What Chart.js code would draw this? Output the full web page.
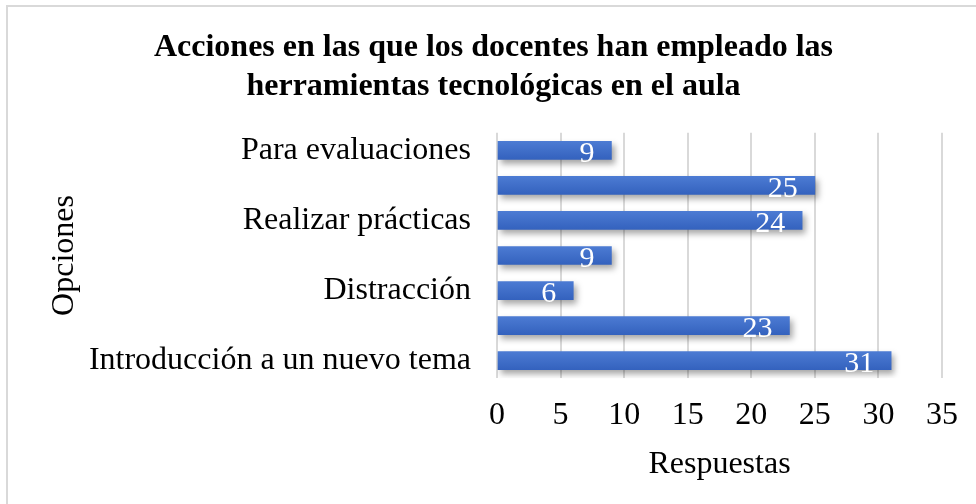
<!DOCTYPE html>
<html>
<head>
<meta charset="utf-8">
<script src="https://cdn.jsdelivr.net/npm/chart.js@4"></script>
<style>
  html, body { margin: 0; padding: 0; background: #fff; overflow: hidden; }
  #wrap { position: relative; width: 976px; height: 504px; }
  #frame { position: absolute; left: 6px; top: 5px; width: 990px; height: 520px; border: 2px solid #d9d9d9; box-sizing: border-box; }
  canvas { position: absolute; left: 0; top: 0; }
</style>
</head>
<body>
<div id="wrap">
  <div id="frame"></div>
  <canvas id="chart" width="976" height="504"></canvas>
</div>
<script>
// categories top to bottom; the unlabeled ones are not readable in the picture
const categories = ['Para evaluaciones', '', 'Realizar prácticas', '', 'Distracción', '', 'Introducción a un nuevo tema'];
const respuestas = [9, 25, 24, 9, 6, 23, 31];
const xTicks = [0, 5, 10, 15, 20, 25, 30, 35];

const serif = "'Liberation Serif', 'Times New Roman', serif";
const BAR_H = 18;

// vertical gradient per bar, lighter on top
function barFill(context) {
    const chart = context.chart;
    const yScale = chart.scales.y;
    if (!chart.chartArea || !yScale) return '#4070c8';
    const yc = yScale.getPixelForValue(context.dataIndex);
    const g = chart.ctx.createLinearGradient(0, yc - BAR_H / 2, 0, yc + BAR_H / 2);
    g.addColorStop(0, '#4c7bd3');
    g.addColorStop(1, '#3462be');
    return g;
}

// soft shadow behind the bars
const barShadow = {
    id: 'barShadow',
    beforeDatasetsDraw(chart) {
        const ctx = chart.ctx;
        ctx.save();
        ctx.shadowColor = 'rgba(0,0,0,0.35)';
        ctx.shadowBlur = 6;
        ctx.shadowOffsetX = 3;
        ctx.shadowOffsetY = 4;
    },
    afterDatasetsDraw(chart) {
        chart.ctx.restore();
    }
};

// white value labels at the inner end of each bar
const valueLabels = {
    id: 'valueLabels',
    afterDraw(chart) {
        const ctx = chart.ctx;
        const meta = chart.getDatasetMeta(0);
        ctx.save();
        ctx.fillStyle = '#fff';
        ctx.font = '30px ' + serif;
        ctx.textAlign = 'right';
        ctx.textBaseline = 'alphabetic';
        meta.data.forEach((bar, i) => {
            ctx.fillText(respuestas[i], bar.x - 17, bar.y + 11.5);
        });
        ctx.restore();
    }
};

new Chart(document.getElementById('chart'), {
    type: 'bar',
    data: {
        labels: categories,
        datasets: [{
            data: respuestas,
            backgroundColor: barFill,
            borderWidth: 0,
            barThickness: BAR_H
        }]
    },
    options: {
        indexAxis: 'y',
        responsive: false,
        animation: false,
        layout: { padding: { left: 40, right: 29, top: 29, bottom: 20 } },
        plugins: {
            legend: { display: false },
            tooltip: { enabled: false },
            title: {
                display: true,
                text: ['Acciones en las que los docentes han empleado las', 'herramientas tecnológicas en el aula'],
                color: '#000',
                font: { family: serif, size: 32, weight: 'bold', lineHeight: 1.2 },
                padding: { top: 0, bottom: 27 }
            }
        },
        scales: {
            x: {
                min: 0,
                max: 35,
                afterBuildTicks(scale) {
                    scale.ticks = xTicks.map(v => ({ value: v }));
                },
                grid: { color: '#d9d9d9', lineWidth: 2, drawTicks: false },
                border: { display: false },
                ticks: { color: '#000', font: { family: serif, size: 32 }, padding: 18 },
                title: {
                    display: true,
                    text: 'Respuestas',
                    color: '#000',
                    font: { family: serif, size: 32 },
                    padding: { top: -7, bottom: 0 }
                }
            },
            y: {
                afterFit(scale) { scale.width = 457; },
                grid: { display: false },
                border: { display: false },
                ticks: { color: '#000', font: { family: serif, size: 32 }, padding: 18, autoSkip: false },
                title: {
                    display: true,
                    text: 'Opciones',
                    color: '#000',
                    font: { family: serif, size: 32 },
                    padding: { top: 5, bottom: 0 }
                }
            }
        }
    },
    plugins: [barShadow, valueLabels]
});
</script>
</body>
</html>
